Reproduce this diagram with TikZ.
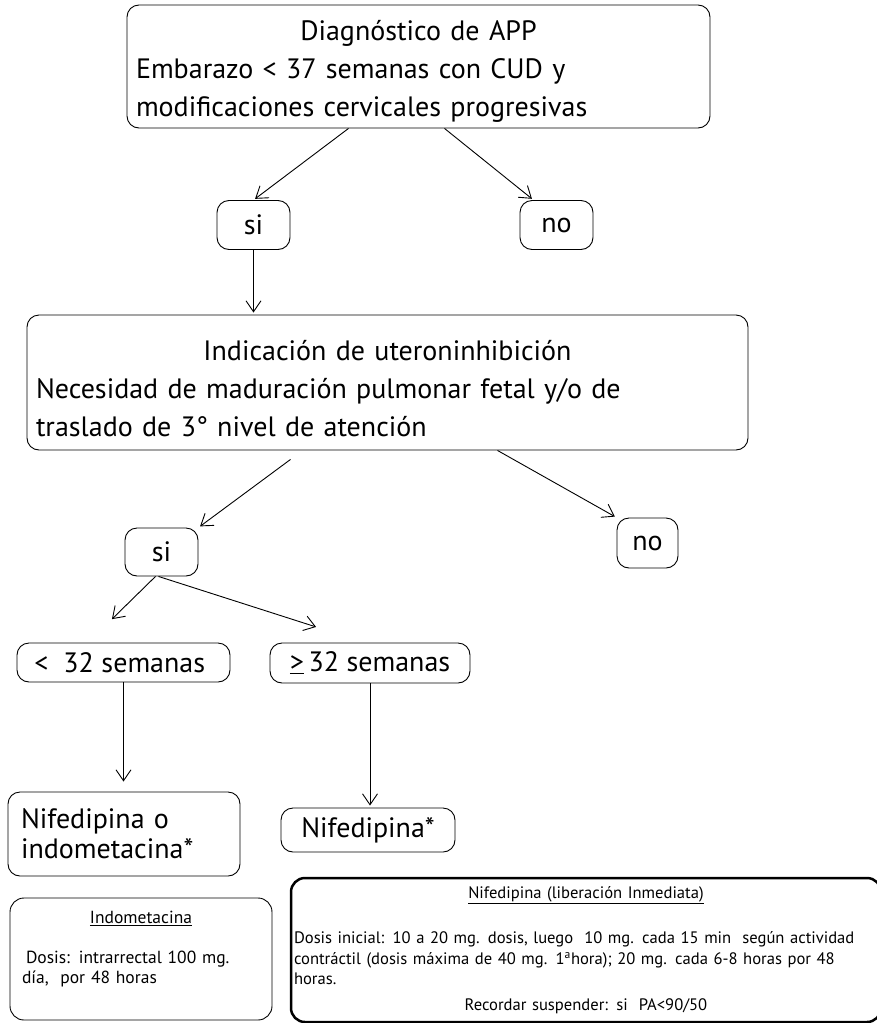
\documentclass[tikz,border=0pt]{standalone}
\usepackage{fontspec}
\setmainfont{PT Sans}
\usetikzlibrary{arrows.meta,positioning}

\newcommand{\bigtxt}{\fontsize{28}{38}\selectfont}
\newcommand{\smalltxt}{\fontsize{17.5}{20.5}\selectfont\hyphenpenalty=10000\relax}
\newcommand{\niftxt}{\fontsize{16.6}{20.5}\selectfont\hyphenpenalty=10000\relax}

\begin{document}
\begin{tikzpicture}[x=1pt,y=-1pt,>={Straight Barb[length=11pt,width=15pt]},shorten >=2pt,
  flowbox/.style={draw,rounded corners=12pt,line width=0.9pt,font=\bigtxt,inner xsep=9pt,inner ysep=0pt},
  notebox/.style={draw,rounded corners=14pt,line width=0.9pt,font=\smalltxt,align=left,inner xsep=12pt}]
  \useasboundingbox (0,0) rectangle (877,1023);

  \node[flowbox,align=left,text width=565pt,minimum height=123pt] (diag) at (418.5,66.5)
    {\makebox[565pt]{\rule{0pt}{29pt}Diagnóstico de APP}\\Embarazo < 37 semanas con CUD y\\modificaciones cervicales progresivas};
  \node[flowbox,minimum width=73pt,minimum height=49pt] (si1) at (253.5,225) {si};
  \node[flowbox,minimum width=73pt,minimum height=49pt] (no1) at (556.5,225) {no};
  \node[flowbox,align=left,text width=703pt,minimum height=135pt] (indic) at (387.5,382.5)
    {\makebox[703pt]{\rule{0pt}{32pt}Indicación de uteroninhibición}\\Necesidad de maduración pulmonar fetal y/o de\\traslado de 3° nivel de atención};
  \node[flowbox,minimum width=73pt,minimum height=48pt] (si2) at (161.5,552) {si};
  \node[flowbox,minimum width=61pt,minimum height=50pt] (no2) at (647.5,543) {no};
  \node[flowbox,minimum width=213pt,minimum height=39pt] (lt32) at (123.5,662.5) {<\ \ 32 semanas\ \ };
  \node[flowbox,minimum width=200pt,minimum height=40pt] (ge32) at (370,663) {\underline{>}\,32 semanas};
  \node[flowbox,align=left,inner xsep=13pt,text width=206pt,minimum height=84pt,font=\fontsize{28}{30}\selectfont] (nifindo) at (124,834)
    {Nifedipina o\\indometacina*};
  \node[flowbox,minimum width=174pt,minimum height=44pt] (nif) at (368,830) {Nifedipina*};

  % notas de dosis
  \node[notebox,text width=238pt,minimum height=122pt] (indobox) at (141,959)
    {\makebox[238pt]{\underline{Indometacina}}\\[19pt]\hspace*{4pt}Dosis: intrarrectal 100 mg.\\día,~ por 48 horas\\[2pt]\mbox{}};
  \node[notebox,line width=2.5pt,inner xsep=3pt,text width=584pt,minimum height=144pt,font=\niftxt] (nifbox) at (586,950)
    {\makebox[584pt]{\underline{Nifedipina (liberación Inmediata)}}\\[25pt]
     Dosis inicial: 10 a 20 mg. dosis, luego~ 10 mg. cada 15 min~ según actividad\\
     contráctil (dosis máxima de 40 mg. 1\textsuperscript{a}hora); 20 mg. cada 6-8 horas por 48\\
     horas.\\[5pt]
     \makebox[584pt]{Recordar suspender: si~ PA<90/50}};

  \path[->,line width=0.9pt]
        ([xshift=-70pt]diag.south) edge (si1.north)
        ([xshift=26pt]diag.south) edge ([xshift=-23pt]no1.north)
        (si1.south) edge (si1.south |- indic.north)
        ([xshift=-97pt,yshift=-9pt]indic.south) edge (si2.north east)
        ([xshift=110pt]indic.south) edge (no2.north west)
        ([xshift=-6pt]si2.south) edge ([xshift=-13pt,yshift=22pt]lt32.north)
        ([xshift=-3pt]si2.south) edge ([xshift=-52pt,yshift=15pt]ge32.north)
        (lt32.south) edge[shorten >=10pt] (lt32.south |- nifindo.north)
        (ge32.south) edge (ge32.south |- nif.north);
\end{tikzpicture}
\end{document}
